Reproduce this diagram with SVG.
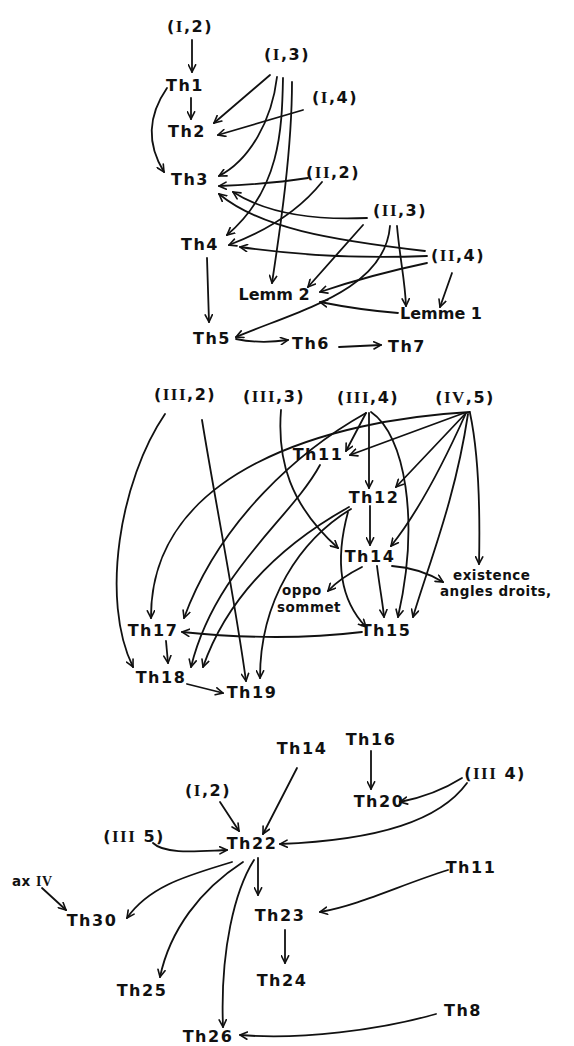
<svg xmlns="http://www.w3.org/2000/svg" width="574" height="1046" viewBox="0 0 574 1046">
<style>
.t{font-family:"DejaVu Sans",sans-serif;font-size:16px;font-weight:bold;text-anchor:middle;fill:#111;letter-spacing:1.5px}
.l{letter-spacing:0px}
.s{font-family:"DejaVu Sans",sans-serif;font-size:13.5px;font-weight:bold;fill:#111;letter-spacing:0.5px}
.r{font-family:"Liberation Serif",serif;font-weight:bold;font-size:17px}
.e{fill:none;stroke:#111;stroke-width:1.8;stroke-linecap:round;marker-end:url(#a)}
</style>
<defs>
<marker id="a" viewBox="0 0 10 10" refX="9" refY="5" markerWidth="9" markerHeight="9" markerUnits="userSpaceOnUse" orient="auto"><path d="M1,1 L9,5 L1,9" fill="none" stroke="#111" stroke-width="1.8" stroke-linecap="round"/></marker>
</defs>
<rect width="574" height="1046" fill="#fff"/>
<g id="connectors">
<path class="e" d="M192,40 L192,72"/>
<path class="e" d="M191,98 L191,119"/>
<path class="e" d="M167,88 Q138,130 164,172"/>
<path class="e" d="M270,75 L214,123"/>
<path class="e" d="M303,110 L218,135"/>
<path class="e" d="M277,77 C272,120 250,160 219,176"/>
<path class="e" d="M283,78 C282,130 280,190 227,235"/>
<path class="e" d="M292,82 C292,150 280,230 272,283"/>
<path class="e" d="M308,178 Q270,184 219,186"/>
<path class="e" d="M322,182 Q290,222 229,245"/>
<path class="e" d="M367,218 Q280,222 233,192"/>
<path class="e" d="M425,251 C330,240 260,228 219,194"/>
<path class="e" d="M427,256 Q330,260 240,247"/>
<path class="e" d="M363,225 L308,287"/>
<path class="e" d="M427,263 Q370,275 320,292"/>
<path class="e" d="M390,226 C385,290 300,310 236,337"/>
<path class="e" d="M397,226 C400,260 405,280 406,306"/>
<path class="e" d="M452,273 L440,307"/>
<path class="e" d="M398,313 Q360,310 320,302"/>
<path class="e" d="M207,258 L209,322"/>
<path class="e" d="M236,339 Q260,344 288,340"/>
<path class="e" d="M339,347 L381,345"/>
<path class="e" d="M165,414 C120,480 100,600 133,667"/>
<path class="e" d="M202,420 C215,500 235,600 246,681"/>
<path class="e" d="M281,410 C277,460 290,505 338,548"/>
<path class="e" d="M470,412 C330,420 150,470 151,618"/>
<path class="e" d="M366,413 C300,450 220,520 184,618"/>
<path class="e" d="M320,465 C290,520 215,570 191,667"/>
<path class="e" d="M349,507 C290,540 230,590 203,667"/>
<path class="e" d="M351,509 C300,540 260,600 260,678"/>
<path class="e" d="M348,512 C335,560 340,600 366,627"/>
<path class="e" d="M366,413 L346,451"/>
<path class="e" d="M369,413 L369,488"/>
<path class="e" d="M371,412 C405,435 420,520 398,617"/>
<path class="e" d="M464,413 L350,455"/>
<path class="e" d="M466,413 L396,487"/>
<path class="e" d="M466,413 C445,460 420,510 391,546"/>
<path class="e" d="M468,414 C455,500 430,560 413,617"/>
<path class="e" d="M470,413 C480,460 480,520 479,564"/>
<path class="e" d="M370,506 L370,545"/>
<path class="e" d="M377,566 C380,590 383,605 384,617"/>
<path class="e" d="M362,567 Q340,578 328,591"/>
<path class="e" d="M392,566 Q420,568 443,582"/>
<path class="e" d="M362,632 Q280,642 182,632"/>
<path class="e" d="M166,641 L168,663"/>
<path class="e" d="M187,684 L223,693"/>
<path class="e" d="M371,751 L371,789"/>
<path class="e" d="M462,778 Q435,795 400,802"/>
<path class="e" d="M467,783 C440,820 380,840 280,844"/>
<path class="e" d="M297,768 L263,834"/>
<path class="e" d="M220,802 L239,831"/>
<path class="e" d="M153,843 C165,855 200,851 227,850"/>
<path class="e" d="M258,858 L258,895"/>
<path class="e" d="M448,870 C400,885 360,905 320,912"/>
<path class="e" d="M42,888 L66,910"/>
<path class="e" d="M232,862 C190,875 150,885 127,918"/>
<path class="e" d="M243,862 C200,890 170,930 160,977"/>
<path class="e" d="M254,860 C235,890 220,950 223,1027"/>
<path class="e" d="M285,930 L285,963"/>
<path class="e" d="M436,1014 C380,1030 300,1040 240,1035"/>
</g>
<g id="n-I2"><text class="t" x="190" y="32">(<tspan class="r">I</tspan>,2)</text></g>
<g id="n-Th1"><text class="t" x="185" y="91">Th1</text></g>
<g id="n-Th2"><text class="t" x="187" y="137">Th2</text></g>
<g id="n-Th3"><text class="t" x="190" y="185">Th3</text></g>
<g id="n-I3"><text class="t" x="287" y="60">(<tspan class="r">I</tspan>,3)</text></g>
<g id="n-I4"><text class="t" x="335" y="103">(<tspan class="r">I</tspan>,4)</text></g>
<g id="n-II2"><text class="t" x="333" y="178">(<tspan class="r">II</tspan>,2)</text></g>
<g id="n-II3"><text class="t" x="400" y="216">(<tspan class="r">II</tspan>,3)</text></g>
<g id="n-II4"><text class="t" x="458" y="261">(<tspan class="r">II</tspan>,4)</text></g>
<g id="n-Th4"><text class="t" x="200" y="250">Th4</text></g>
<g id="n-Lemm2"><text class="t l" x="274" y="300">Lemm 2</text></g>
<g id="n-Lemme1"><text class="t l" x="441" y="319">Lemme 1</text></g>
<g id="n-Th5"><text class="t" x="212" y="344">Th5</text></g>
<g id="n-Th6"><text class="t" x="311" y="349">Th6</text></g>
<g id="n-Th7"><text class="t" x="407" y="352">Th7</text></g>
<g id="n-III2"><text class="t" x="185" y="400">(<tspan class="r">III</tspan>,2)</text></g>
<g id="n-III3"><text class="t" x="274" y="402">(<tspan class="r">III</tspan>,3)</text></g>
<g id="n-III4"><text class="t" x="368" y="403">(<tspan class="r">III</tspan>,4)</text></g>
<g id="n-IV5"><text class="t" x="465" y="403">(<tspan class="r">IV</tspan>,5)</text></g>
<g id="n-Th11"><text class="t" x="318" y="460">Th11</text></g>
<g id="n-Th12"><text class="t" x="374" y="503">Th12</text></g>
<g id="n-Th14"><text class="t" x="370" y="562">Th14</text></g>
<g id="n-Th15"><text class="t" x="386" y="636">Th15</text></g>
<g id="n-oppo"><text class="s" x="282" y="595">oppo</text><text class="s" x="277" y="612">sommet</text></g>
<g id="n-exist"><text class="s" x="453" y="580">existence</text><text class="s" x="440" y="596">angles droits,</text></g>
<g id="n-Th17"><text class="t" x="153" y="636">Th17</text></g>
<g id="n-Th18"><text class="t" x="161" y="683">Th18</text></g>
<g id="n-Th19"><text class="t" x="252" y="698">Th19</text></g>
<g id="n-Th14b"><text class="t" x="302" y="754">Th14</text></g>
<g id="n-Th16"><text class="t" x="371" y="745">Th16</text></g>
<g id="n-Th20"><text class="t" x="379" y="807">Th20</text></g>
<g id="n-III4b"><text class="t" x="495" y="779">(<tspan class="r">III</tspan> 4)</text></g>
<g id="n-I2b"><text class="t" x="208" y="796">(<tspan class="r">I</tspan>,2)</text></g>
<g id="n-III5"><text class="t" x="134" y="842">(<tspan class="r">III</tspan> 5)</text></g>
<g id="n-Th22"><text class="t" x="252" y="849">Th22</text></g>
<g id="n-Th11b"><text class="t" x="471" y="873">Th11</text></g>
<g id="n-axIV"><text class="s" x="12" y="886">ax <tspan class="r" style="font-size:14px">IV</tspan></text></g>
<g id="n-Th30"><text class="t" x="92" y="926">Th30</text></g>
<g id="n-Th23"><text class="t" x="280" y="921">Th23</text></g>
<g id="n-Th24"><text class="t" x="282" y="986">Th24</text></g>
<g id="n-Th25"><text class="t" x="142" y="996">Th25</text></g>
<g id="n-Th26"><text class="t" x="208" y="1042">Th26</text></g>
<g id="n-Th8"><text class="t" x="463" y="1016">Th8</text></g>
</svg>
